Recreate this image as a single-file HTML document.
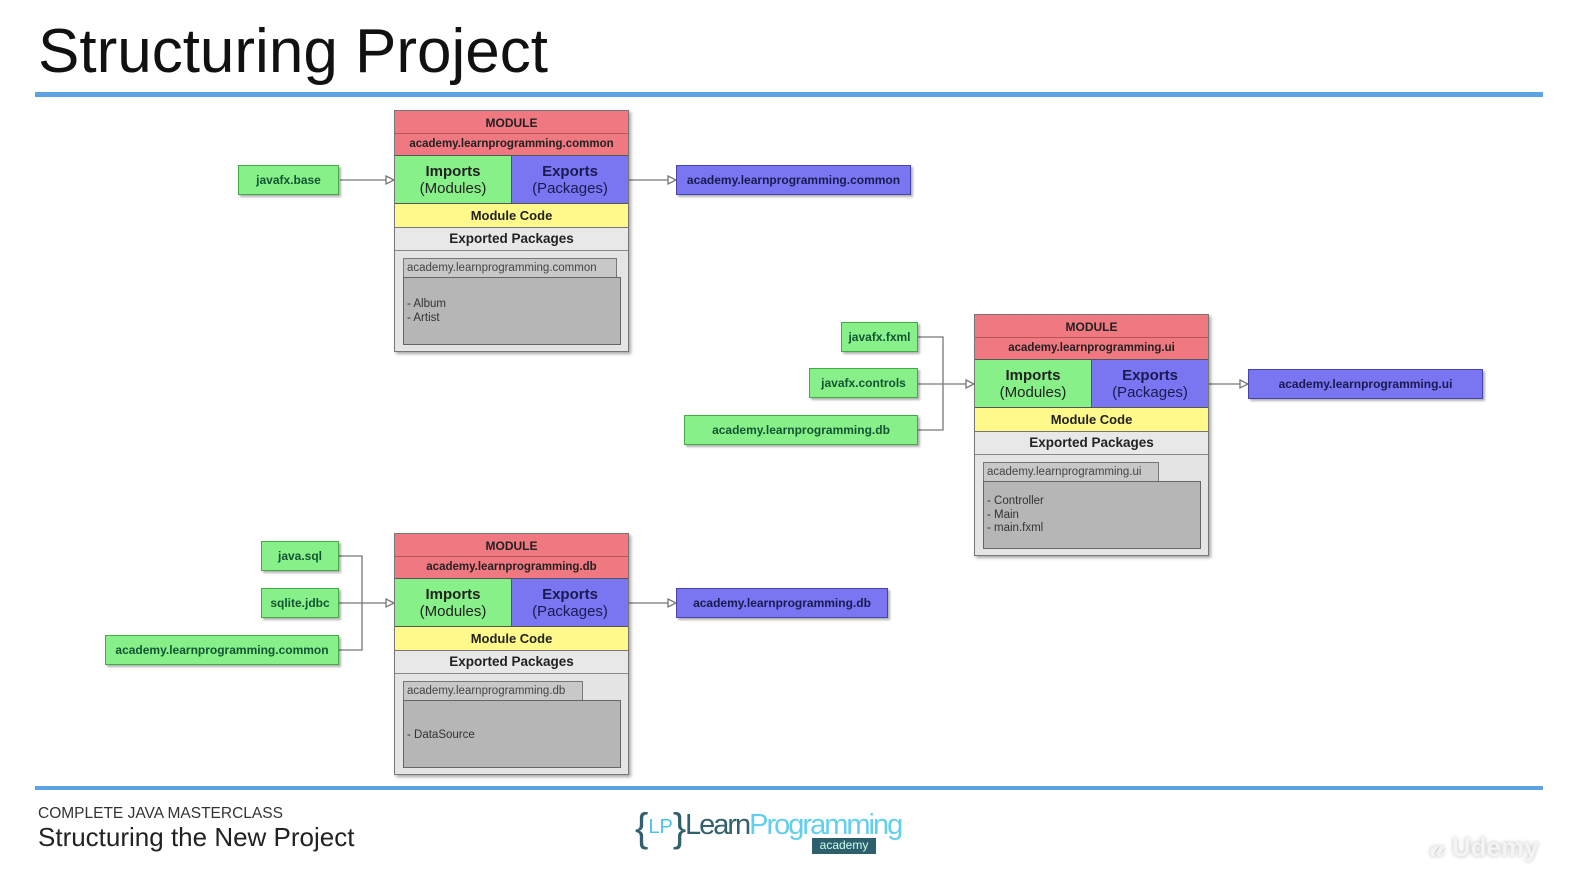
<!DOCTYPE html>
<html><head><meta charset="utf-8"><style>
*{box-sizing:border-box;margin:0;padding:0}
body{width:1581px;height:895px;background:#fff;position:relative;overflow:hidden;font-family:"Liberation Sans",Arial,sans-serif}
.a{position:absolute}
.mod{position:absolute;width:235px;height:242px;border:1px solid #777;box-shadow:2px 2px 3px rgba(0,0,0,.35);background:#e4e4e4}
.mod div{position:absolute;text-align:center;color:#222;font-weight:bold}
.r1{left:0;top:0;width:233px;height:23px;background:#f07880;font-size:12px;line-height:25px;border-bottom:1px solid #b55}
.r2{left:0;top:23px;width:233px;height:22px;background:#f07880;font-size:11.5px;line-height:21px;border-bottom:1px solid #555}
.imp{left:0;top:45px;width:117px;height:48px;background:#88f088;font-size:15px;line-height:17px;padding-top:7px;border-right:1px solid #555;border-bottom:1px solid #555}
.exp{left:117px;top:45px;width:116px;height:48px;background:#7a76f2;font-size:15px;line-height:17px;padding-top:7px;color:#1a1a50!important;border-bottom:1px solid #555}
.imp span,.exp span{font-weight:normal}
.code{left:0;top:93px;width:233px;height:24px;background:#fff98c;font-size:13px;line-height:23px;border-bottom:1px solid #777}
.ep{left:0;top:117px;width:233px;height:23px;background:#e8e8e8;font-size:13.5px;line-height:22px;border-bottom:1px solid #888}
.ih{top:147px;left:8px;height:20px;background:#c8c8c8;border:1px solid #777;font-weight:normal!important;font-size:11.5px;line-height:18px;color:#444!important;text-align:left!important;padding-left:3px;white-space:nowrap}
.ib{top:166px;left:8px;width:218px;height:68px;background:#b6b6b6;border:1px solid #666;font-weight:normal!important;font-size:11.5px;line-height:14px;text-align:left!important;padding-left:3px;color:#333!important}
.g{position:absolute;background:#88f088;border:1px solid #4a4;box-shadow:2px 2px 2px rgba(0,0,0,.3);font-size:12px;font-weight:bold;color:#153;text-align:center;line-height:29px;height:30px}
.b{position:absolute;background:#7a76f2;border:1px solid #44a;box-shadow:2px 2px 2px rgba(0,0,0,.3);font-size:12px;font-weight:bold;color:#1a1a50;text-align:center;line-height:29px;height:30px}
</style></head><body>
<div class="a" style="left:38px;top:16px;font-size:62px;color:#111;line-height:72px">Structuring Project</div>
<div class="a" style="left:35px;top:92px;width:1508px;height:5px;background:#5ba3e3"></div>
<div class="a" style="left:35px;top:786px;width:1508px;height:4px;background:#5ba3e3"></div>
<div class="a" style="left:38px;top:805px;font-size:15.5px;color:#333">COMPLETE JAVA MASTERCLASS</div>
<div class="a" style="left:38px;top:822px;font-size:26px;color:#222">Structuring the New Project</div>
<div class="a" style="left:635px;top:803px;font-size:40px;color:#33606e;line-height:48px">{<span style="font-size:20px;color:#4bc3e8;vertical-align:8px">LP</span>}</div>
<div class="a" style="left:685px;top:809px;font-size:29px;color:#33606e;letter-spacing:-2px">Learn<span style="color:#62cfee">Programming</span></div>
<div class="a" style="left:812px;top:838px;width:64px;height:16px;background:#2d5f6c;color:#cfe;font-size:12px;text-align:center;line-height:15px">academy</div>
<div class="a" style="left:1430px;top:832px;font-size:26px;color:#f4f4f4;font-weight:bold;text-shadow:0 0 4px #bbb">𝓊 Udemy</div>

<svg class="a" style="left:0;top:0" width="1581" height="895">
<g stroke="#777" stroke-width="1.3" fill="#fff">
<line x1="340" y1="180" x2="386" y2="180"/><polygon points="386,176 394,180 386,184"/>
<line x1="629" y1="180" x2="668" y2="180"/><polygon points="668,176 676,180 668,184"/>
<polyline fill="none" points="918,337 943,337 943,430 918,430"/>
<line x1="918" y1="384" x2="966" y2="384"/><polygon points="966,380 974,384 966,388"/>
<line x1="1209" y1="384" x2="1240" y2="384"/><polygon points="1240,380 1248,384 1240,388"/>
<polyline fill="none" points="339,556 362,556 362,650 339,650"/>
<line x1="339" y1="603" x2="386" y2="603"/><polygon points="386,599 394,603 386,607"/>
<line x1="629" y1="603" x2="668" y2="603"/><polygon points="668,599 676,603 668,607"/>
</g></svg>

<div class="mod" style="left:394px;top:110px">
<div class="r1">MODULE</div><div class="r2">academy.learnprogramming.common</div>
<div class="imp">Imports<br><span>(Modules)</span></div><div class="exp">Exports<br><span>(Packages)</span></div>
<div class="code">Module Code</div><div class="ep">Exported Packages</div>
<div class="ih" style="width:214px">academy.learnprogramming.common</div>
<div class="ib" style="padding-top:19px">- Album<br>- Artist</div>
</div>
<div class="mod" style="left:974px;top:314px">
<div class="r1">MODULE</div><div class="r2">academy.learnprogramming.ui</div>
<div class="imp">Imports<br><span>(Modules)</span></div><div class="exp">Exports<br><span>(Packages)</span></div>
<div class="code">Module Code</div><div class="ep">Exported Packages</div>
<div class="ih" style="width:176px">academy.learnprogramming.ui</div>
<div class="ib" style="padding-top:13px;line-height:13.5px">- Controller<br>- Main<br>- main.fxml</div>
</div>
<div class="mod" style="left:394px;top:533px">
<div class="r1">MODULE</div><div class="r2">academy.learnprogramming.db</div>
<div class="imp">Imports<br><span>(Modules)</span></div><div class="exp">Exports<br><span>(Packages)</span></div>
<div class="code">Module Code</div><div class="ep">Exported Packages</div>
<div class="ih" style="width:180px">academy.learnprogramming.db</div>
<div class="ib" style="padding-top:27px">- DataSource</div>
</div>

<div class="g" style="left:238px;top:165px;width:101px">javafx.base</div>
<div class="b" style="left:676px;top:165px;width:235px">academy.learnprogramming.common</div>
<div class="g" style="left:841px;top:322px;width:77px">javafx.fxml</div>
<div class="g" style="left:809px;top:368px;width:109px">javafx.controls</div>
<div class="g" style="left:684px;top:415px;width:234px">academy.learnprogramming.db</div>
<div class="b" style="left:1248px;top:369px;width:235px">academy.learnprogramming.ui</div>
<div class="g" style="left:261px;top:541px;width:78px">java.sql</div>
<div class="g" style="left:261px;top:588px;width:78px">sqlite.jdbc</div>
<div class="g" style="left:105px;top:635px;width:234px">academy.learnprogramming.common</div>
<div class="b" style="left:676px;top:588px;width:212px">academy.learnprogramming.db</div>
</body></html>
